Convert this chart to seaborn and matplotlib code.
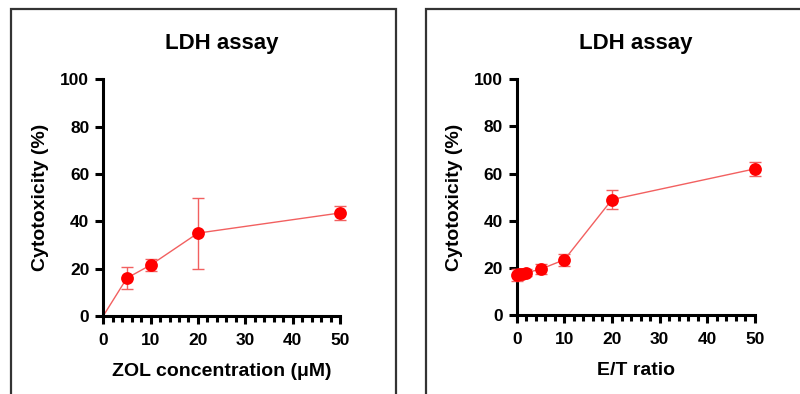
import matplotlib
matplotlib.use("Agg")
import matplotlib.pyplot as plt
import seaborn as sns
import pandas as pd
from matplotlib.patches import Rectangle
from matplotlib.ticker import MultipleLocator

sns.set_style("ticks")
plt.rcParams['font.family'] = ['Liberation Sans', 'DejaVu Sans']
plt.rcParams['font.weight'] = 'bold'
plt.rcParams['text.color'] = 'black'
plt.rcParams['xtick.color'] = 'black'
plt.rcParams['ytick.color'] = 'black'
plt.rcParams['axes.labelcolor'] = 'black'

# ZOL panel
zol_conc = [0, 5, 10, 20, 50]
zol_tox = [0, 16, 21.5, 35, 43.5]
zol_err = [0, 4.5, 2.5, 15, 3]

# E/T panel
et_ratio = [0, 0.5, 1, 2, 5, 10, 20, 50]
et_tox = [17, 17.5, 17.5, 18, 19.5, 23.5, 49, 62]
et_err = [2.5, 2, 1.5, 1.5, 2, 2.5, 4, 3]

panels = [
    (zol_conc, zol_tox, zol_err, "ZOL concentration (μM)", [0.129, 0.198, 0.296, 0.601], False),
    (et_ratio, et_tox, et_err, "E/T ratio", [0.646, 0.200, 0.2975, 0.599], True),
]

fig = plt.figure(figsize=(8, 3.94), dpi=100)

# outer frames around each panel
fig.patches.append(Rectangle((10.5 / 800, -0.1), (396 - 10.5) / 800, 1.1 - 9.5 / 394,
                             transform=fig.transFigure, fill=False, edgecolor='#333333', lw=1.6))
fig.patches.append(Rectangle((426 / 800, -0.1), 0.5, 1.1 - 9.5 / 394,
                             transform=fig.transFigure, fill=False, edgecolor='#333333', lw=1.6))

red = '#ff0000'
line_red = '#f26060'

for x, y, err, xlabel, pos, mark_first in panels:
    ax = fig.add_axes(pos)
    df = pd.DataFrame({"x": x, "y": y, "err": err})
    sns.lineplot(data=df, x="x", y="y", ax=ax, color=line_red, lw=1.0)
    eb = df[df["err"] > 0]
    ax.errorbar(eb["x"], eb["y"], yerr=eb["err"], fmt='none', ecolor=line_red,
                elinewidth=1.0, capsize=4, capthick=1.0, clip_on=False, zorder=3)
    pts = df if mark_first else df[df["x"] > 0]
    sns.scatterplot(data=pts, x="x", y="y", ax=ax, color=red, s=85,
                    edgecolor=red, linewidth=0, zorder=4, clip_on=False)
    ax.set_xlim(0, 50)
    ax.set_ylim(0, 100)
    ax.set_xticks([0, 10, 20, 30, 40, 50])
    ax.set_yticks([0, 20, 40, 60, 80, 100])
    ax.xaxis.set_minor_locator(MultipleLocator(2))
    sns.despine(ax=ax)
    for s in ['left', 'bottom']:
        ax.spines[s].set_linewidth(2.2)
        ax.spines[s].set_color('black')
    ax.tick_params(axis='both', which='major', direction='out', length=6, width=2.2,
                   labelsize=12.5, pad=4, color='black', labelcolor='black')
    ax.tick_params(axis='x', which='major', pad=6)
    ax.tick_params(axis='x', which='minor', direction='out', length=4, width=2.2, color='black')
    for lab in ax.get_xticklabels() + ax.get_yticklabels():
        lab.set_fontweight('bold')
    ax.set_xlabel(xlabel, fontsize=14, fontweight='bold', labelpad=11, color='black')
    ax.set_ylabel("Cytotoxicity (%)", fontsize=14, fontweight='bold', labelpad=8, color='black')
    ax.set_title("LDH assay", fontsize=16, fontweight='bold', pad=22, color='black')

fig.savefig("out.png", dpi=100)
